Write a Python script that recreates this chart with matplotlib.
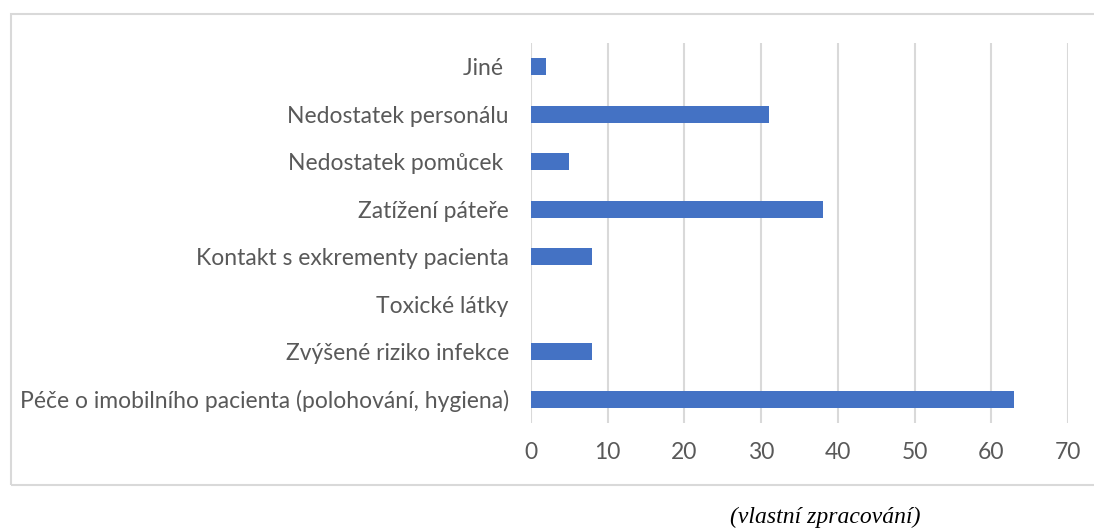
import matplotlib
matplotlib.use("Agg")
import matplotlib.pyplot as plt
from matplotlib.patches import Rectangle

categories = [
    "Péče o imobilního pacienta (polohování, hygiena)",
    "Zvýšené riziko infekce",
    "Toxické látky",
    "Kontakt s exkrementy pacienta",
    "Zatížení páteře",
    "Nedostatek pomůcek ",
    "Nedostatek personálu",
    "Jiné ",
]
values = [63, 8, 0, 8, 38, 5, 31, 2]
x_ticks = [0, 10, 20, 30, 40, 50, 60, 70]

plt.rcParams['font.family'] = ['Lato', 'DejaVu Sans']

fig = plt.figure(figsize=(10.94, 5.29), dpi=100)
ax = fig.add_axes([0.4854, 0.2004, 0.4908, 0.7183])

# outer chart frame
fig.patches.append(Rectangle((11 / 1094, 1 - 485 / 529), 1.0, 471 / 529,
                             transform=fig.transFigure, fill=False,
                             edgecolor='#D9D9D9', linewidth=1.5))

ax.barh(range(len(categories)), values, height=0.36, color='#4472C4',
        linewidth=0, zorder=3)
ax.set_ylim(-0.5, len(categories) - 0.5)
ax.set_xlim(0, 70)
ax.set_xticks(x_ticks)
ax.set_yticks(range(len(categories)))
ax.set_yticklabels(categories)
ax.tick_params(axis='both', length=0, labelsize=16.5, labelcolor='#595959')
ax.tick_params(axis='y', pad=16)
ax.tick_params(axis='x', pad=14)
ax.grid(axis='x', color='#D9D9D9', linewidth=1.5, zorder=0)
for s in ax.spines.values():
    s.set_visible(False)

fig.text(825 / 1094, 1 - 517 / 529, "(vlastní zpracování)", ha='center', va='center',
         fontsize=17, style='italic', family=['Liberation Serif', 'DejaVu Serif'],
         color='black')

fig.savefig("out.png", dpi=100)
